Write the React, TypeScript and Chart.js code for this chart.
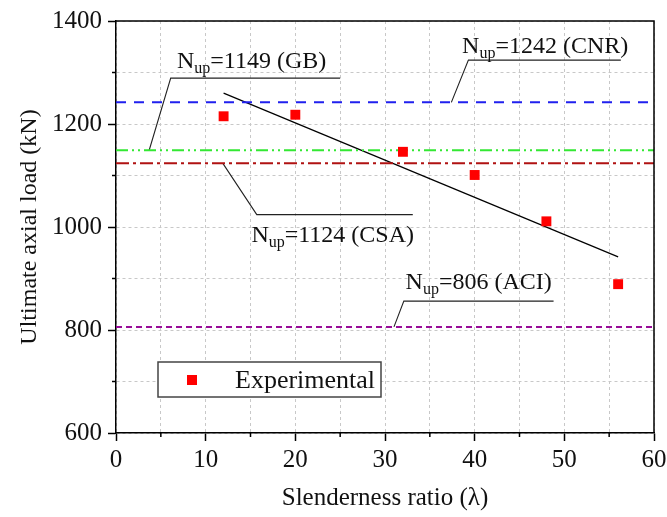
import React, { useEffect, useRef } from 'react';
import { Chart, registerables } from 'chart.js';

Chart.register(...registerables);

// ---- data ----
const slenderness = [12, 20, 32, 40, 48, 56];
const experimentalLoad = [1215, 1218, 1146, 1101, 1011, 889];

const codeNames = ['CNR', 'GB', 'CSA', 'ACI'];
const codeLoads = [1242, 1149, 1124, 806];
const codeLineX = [0, 60];

const trendX = [12, 56];
const trendY = [1260, 942];

// leader lines (start on code line, elbow, end) in data coordinates
const leaderX = [
  [37.4, 39.3, 56.3],
  [3.7, 6.1, 25.0],
  [11.9, 15.7, 33.1],
  [31.0, 32.1, 48.8],
];
const leaderY = [
  [1242, 1324, 1324],
  [1149, 1289, 1289],
  [1124, 1024, 1024],
  [806, 856, 856],
];
// label anchors (left edge, baseline) in data coordinates
const labelX = [38.6, 6.8, 15.1, 32.3];
const labelY = [1338, 1308, 971, 880];

const xMajorTicks = [0, 10, 20, 30, 40, 50, 60];
const yMajorTicks = [600, 800, 1000, 1200, 1400];

// ---- styles ----
const FONT = '"Liberation Serif", "Times New Roman", serif';
const codeColors = ['#2020ee', '#33e833', '#b01212', '#990c99'];
const codeDashes = [
  [10, 8],
  [12, 4, 2, 4, 2, 4],
  [13, 4, 3, 4],
  [6, 4],
];

const decorPlugin = {
  id: 'decor',
  afterDraw(chart: any) {
    const { ctx, chartArea: a, scales } = chart;
    const xs = scales.x;
    const ys = scales.y;
    ctx.save();
    // minor ticks
    ctx.strokeStyle = '#000';
    ctx.lineWidth = 1.5;
    ctx.setLineDash([]);
    for (let v = 5; v < 60; v += 10) {
      const px = xs.getPixelForValue(v);
      ctx.beginPath();
      ctx.moveTo(px, a.bottom);
      ctx.lineTo(px, a.bottom + 4);
      ctx.stroke();
    }
    for (let v = 700; v < 1400; v += 200) {
      const py = ys.getPixelForValue(v);
      ctx.beginPath();
      ctx.moveTo(a.left, py);
      ctx.lineTo(a.left - 4, py);
      ctx.stroke();
    }
    // top & right border
    ctx.beginPath();
    ctx.moveTo(a.left, a.top);
    ctx.lineTo(a.right, a.top);
    ctx.lineTo(a.right, a.bottom);
    ctx.stroke();

    // annotations
    ctx.fillStyle = '#111';
    ctx.textBaseline = 'alphabetic';
    ctx.textAlign = 'left';
    for (let i = 0; i < codeNames.length; i++) {
      let x = xs.getPixelForValue(labelX[i]);
      const y = ys.getPixelForValue(labelY[i]);
      ctx.font = `24px ${FONT}`;
      ctx.fillText('N', x, y);
      x += ctx.measureText('N').width;
      ctx.font = `16px ${FONT}`;
      ctx.fillText('up', x, y + 5);
      x += ctx.measureText('up').width;
      ctx.font = `24px ${FONT}`;
      ctx.fillText(`=${codeLoads[i]} (${codeNames[i]})`, x, y);
    }

    // legend
    const lx = a.left + 42;
    const ly = a.top + 341;
    const lw = 223;
    const lh = 35;
    ctx.fillStyle = '#fff';
    ctx.fillRect(lx, ly, lw, lh);
    ctx.strokeStyle = '#444';
    ctx.lineWidth = 1.5;
    ctx.strokeRect(lx, ly, lw, lh);
    ctx.fillStyle = '#ff0000';
    ctx.fillRect(lx + 29, ly + 13, 10, 10);
    ctx.fillStyle = '#111';
    ctx.font = `26px ${FONT}`;
    ctx.fillText('Experimental', lx + 77, ly + 26);
    ctx.restore();
  },
};

export default function App() {
  const ref = useRef<HTMLCanvasElement>(null);

  useEffect(() => {
    document.body.style.margin = '0';
    document.body.style.overflow = 'hidden';
    if (!ref.current) return;

    const datasets: any[] = [];
    datasets.push({
      label: 'Experimental',
      data: slenderness.map((x, i) => ({ x, y: experimentalLoad[i] })),
      pointStyle: 'rect',
      pointRadius: 7,
      pointBackgroundColor: '#ff0000',
      pointBorderWidth: 0,
      showLine: false,
    });
    codeNames.forEach((name, i) => {
      datasets.push({
        label: name,
        data: codeLineX.map((x) => ({ x, y: codeLoads[i] })),
        showLine: true,
        borderColor: codeColors[i],
        borderWidth: 2,
        borderDash: codeDashes[i],
        pointRadius: 0,
      });
    });
    datasets.push({
      label: 'trend',
      data: trendX.map((x, i) => ({ x, y: trendY[i] })),
      showLine: true,
      borderColor: '#000',
      borderWidth: 1.2,
      pointRadius: 0,
    });
    leaderX.forEach((xsArr, i) => {
      datasets.push({
        label: 'leader' + i,
        data: xsArr.map((x, j) => ({ x, y: leaderY[i][j] })),
        showLine: true,
        borderColor: '#222',
        borderWidth: 1.1,
        pointRadius: 0,
      });
    });

    const chart = new Chart(ref.current, {
      type: 'scatter',
      data: { datasets },
      options: {
        animation: false,
        responsive: false,
        layout: { padding: { top: 21, right: 13, left: 0, bottom: 0 } },
        plugins: { legend: { display: false }, tooltip: { enabled: false } },
        scales: {
          x: {
            type: 'linear',
            min: 0,
            max: 60,
            afterFit: (s: any) => {
              s.height = 84;
              s.paddingLeft = 0;
              s.paddingRight = 0;
            },
            ticks: {
              stepSize: 5,
              autoSkip: false,
              maxRotation: 0,
              padding: 4,
              color: '#111',
              font: { family: FONT, size: 25 },
              callback: (v: any) => (xMajorTicks.includes(Number(v)) ? String(v) : ''),
            },
            grid: {
              color: '#c8c8c8',
              lineWidth: 1,
              tickLength: 8,
              tickWidth: 1.5,
              tickColor: (c: any) =>
                c.tick && xMajorTicks.includes(c.tick.value) ? '#000' : 'rgba(0,0,0,0)',
            },
            border: { color: '#000', width: 1.5, dash: [3, 3] },
            title: {
              display: true,
              text: 'Slenderness ratio (λ)',
              color: '#111',
              font: { family: FONT, size: 25 },
              padding: { top: 0, bottom: 4 },
            },
          },
          y: {
            type: 'linear',
            min: 600,
            max: 1400,
            afterFit: (s: any) => {
              s.width = 116;
              s.paddingTop = 0;
              s.paddingBottom = 0;
            },
            ticks: {
              stepSize: 100,
              autoSkip: false,
              padding: 6,
              color: '#111',
              font: { family: FONT, size: 25 },
              callback: (v: any) => (yMajorTicks.includes(Number(v)) ? String(v) : ''),
            },
            grid: {
              color: '#c8c8c8',
              lineWidth: 1,
              tickLength: 8,
              tickWidth: 1.5,
              tickColor: (c: any) =>
                c.tick && yMajorTicks.includes(c.tick.value) ? '#000' : 'rgba(0,0,0,0)',
            },
            border: { color: '#000', width: 1.5, dash: [3, 3] },
            title: {
              display: true,
              text: 'Ultimate axial load (kN)',
              color: '#111',
              font: { family: FONT, size: 24 },
              padding: { top: 15, bottom: 0 },
            },
          },
        },
      },
      plugins: [decorPlugin],
    });
    return () => chart.destroy();
  }, []);

  return (
    <div style={{ width: 667, height: 517 }}>
      <canvas ref={ref} width={667} height={517} />
    </div>
  );
}
